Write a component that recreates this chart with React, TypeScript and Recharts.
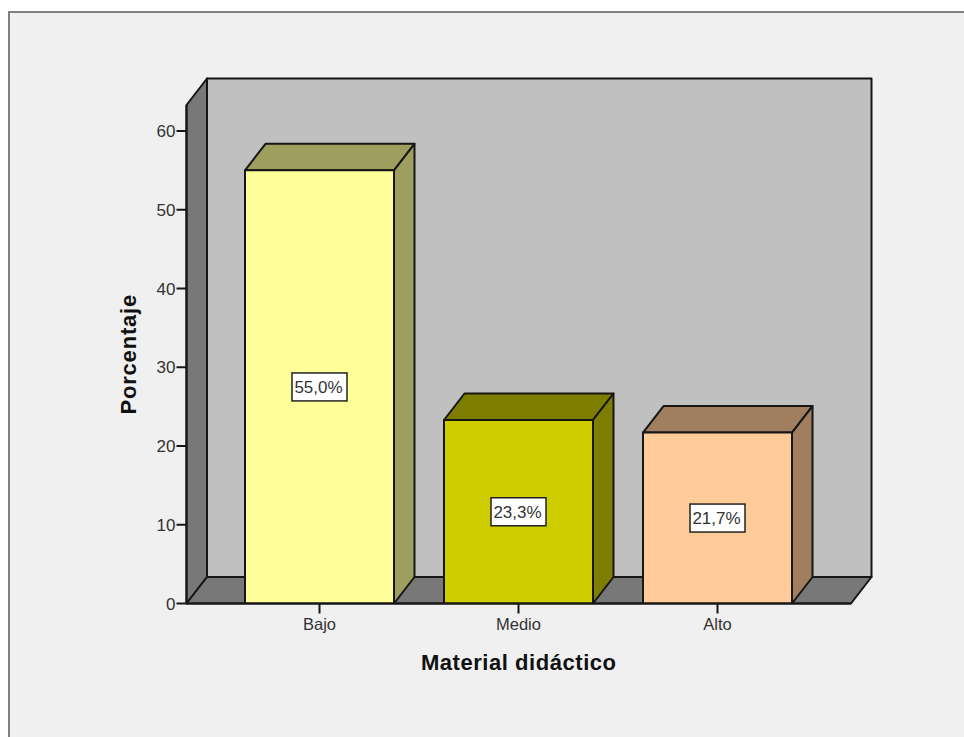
import React from "react";
import { BarChart, Bar, XAxis, YAxis, LabelList, usePlotArea } from "recharts";

const categories = ["Bajo", "Medio", "Alto"];
const percentages = [55.0, 23.3, 21.7];
const valueLabels = ["55,0%", "23,3%", "21,7%"];
const yTicks = [0, 10, 20, 30, 40, 50, 60];
const frontColors = ["#FFFF99", "#CDCD00", "#FFCC99"];
const sideColors = ["#9E9E5F", "#7D7D00", "#A07E5F"];

const rows = categories.map((name, i) => ({ name, value: percentages[i], label: valueLabels[i] }));

const DX = 20.5;
const DY = 26.5;
const EDGE = "#161616";
const FONT = "'Liberation Sans', Arial, sans-serif";

function Walls() {
  const p = usePlotArea();
  if (!p) return null;
  const { x, y, width, height } = p;
  const b = y + height;
  const r = x + width;
  const common = { stroke: EDGE, strokeWidth: 2, strokeLinejoin: "round" as const };
  return (
    <g>
      <rect x={x + DX} y={y - DY} width={width} height={height} fill="#C0C0C0" {...common} />
      <polygon points={`${x},${y} ${x + DX},${y - DY} ${x + DX},${b - DY} ${x},${b}`} fill="#787878" {...common} />
      <polygon points={`${x},${b} ${x + DX},${b - DY} ${r + DX},${b - DY} ${r},${b}`} fill="#787878" {...common} />
    </g>
  );
}

function Bar3D(props: any) {
  const { x, y, width, height, index } = props;
  const common = { stroke: EDGE, strokeWidth: 2, strokeLinejoin: "round" as const };
  const side = sideColors[index];
  const rx = x + width;
  const by = y + height;
  return (
    <g>
      <polygon points={`${x},${y} ${x + DX},${y - DY} ${rx + DX},${y - DY} ${rx},${y}`} fill={side} {...common} />
      <polygon points={`${rx},${y} ${rx + DX},${y - DY} ${rx + DX},${by - DY} ${rx},${by}`} fill={side} {...common} />
      <rect x={x} y={y} width={width} height={height} fill={frontColors[index]} {...common} />
    </g>
  );
}

function BoxLabel(props: any) {
  const { x, y, width, height, value } = props;
  const cx = x + width / 2;
  const cy = y + height / 2;
  return (
    <g>
      <rect x={cx - 27.5} y={cy - 14} width={55} height={28} fill="#FFFFFF" stroke="#222" strokeWidth={1.5} />
      <text x={cx - 1} y={cy + 6} textAnchor="middle" fontFamily={FONT} fontSize={17} fill="#333">
        {value}
      </text>
    </g>
  );
}

export default function App() {
  return (
    <div style={{ position: "absolute", left: 0, top: 0, width: 964, height: 737, overflow: "hidden", background: "#fff" }}>
      <div
        style={{
          position: "absolute",
          left: 8,
          top: 11,
          width: 960,
          height: 730,
          background: "#F0F0F0",
          borderTop: "2px solid #808080",
          borderLeft: "2px solid #808080",
        }}
      />
      <div style={{ position: "absolute", left: 0, top: 0 }}>
        <BarChart
          width={964}
          height={737}
          data={rows}
          margin={{ left: 126.5, right: 113, top: 105, bottom: 93.5 }}
          barSize={149}
        >
          <Walls />
          <XAxis
            dataKey="name"
            height={40}
            padding={{ left: 33.5, right: 34 }}
            axisLine={{ stroke: EDGE, strokeWidth: 2 }}
            tickLine={{ stroke: EDGE, strokeWidth: 2 }}
            tickSize={10}
            tickMargin={5}
            tick={{ fontFamily: FONT, fontSize: 16.5, fill: "#333" }}
            interval={0}
            label={{
              value: "Material didáctico",
              position: "insideBottom",
              offset: -26,
              style: { fontFamily: FONT, fontSize: 22, fontWeight: 700, letterSpacing: 0.55, fill: "#111" },
            }}
          />
          <YAxis
            width={60}
            domain={[0, 63.3]}
            ticks={yTicks}
            axisLine={{ stroke: EDGE, strokeWidth: 2 }}
            tickLine={{ stroke: EDGE, strokeWidth: 2 }}
            tickSize={10}
            tickMargin={1}
            tick={{ fontFamily: FONT, fontSize: 17, fill: "#333" }}
            allowDataOverflow
            label={{
              value: "Porcentaje",
              angle: -90,
              position: "insideLeft",
              offset: 2,
              style: { fontFamily: FONT, fontSize: 22, fontWeight: 700, letterSpacing: 0.8, fill: "#111", textAnchor: "middle" },
            }}
          />
          <Bar dataKey="value" isAnimationActive={false} shape={<Bar3D />}>
            <LabelList dataKey="label" content={<BoxLabel />} />
          </Bar>
        </BarChart>
      </div>
    </div>
  );
}
